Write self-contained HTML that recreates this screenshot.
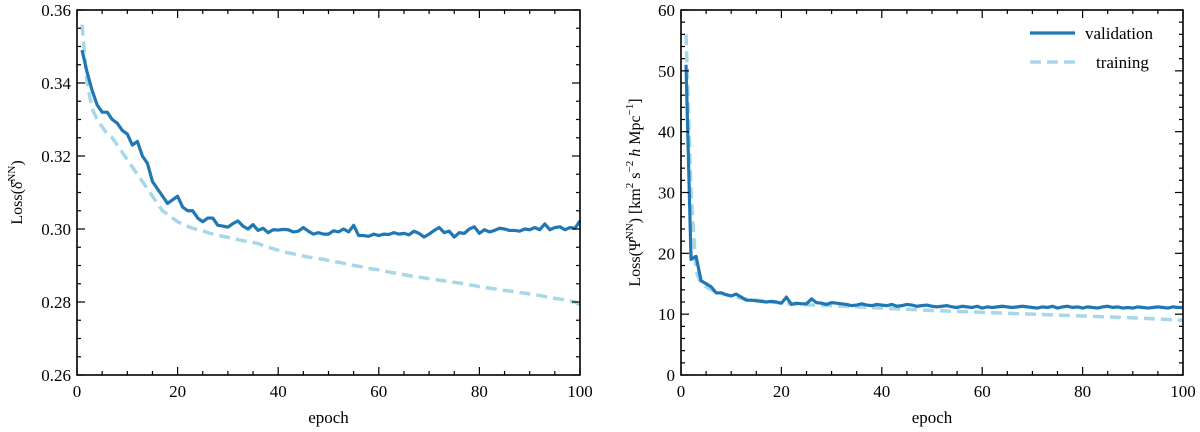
<!DOCTYPE html>
<html><head><meta charset="utf-8"><style>
html,body{margin:0;padding:0;background:#fff;}
svg{display:block;font-family:"Liberation Serif",serif;}
</style></head><body>
<svg id="c" width="1200" height="432" xmlns="http://www.w3.org/2000/svg"></svg>
<script>
const epochs = Array.from({length:100},(_,i)=>i+1);
const leftVal = [0.349,0.343,0.338,0.334,0.332,0.332,0.330,0.329,0.327,0.326,0.323,0.324,0.320,0.318,0.313,0.311,0.309,0.307,0.308,0.309,0.306,0.305,0.305,0.303,0.302,0.303,0.303,0.301,0.3008,0.3005,
0.3015,0.3022,0.3008,0.3000,0.3012,0.2996,0.3002,0.2990,0.2998,0.2997,0.2999,0.2998,0.2992,0.2994,0.3004,0.2994,0.2986,0.2990,0.2986,0.2986,0.2995,0.2992,0.3000,0.2992,0.3010,0.2982,0.2982,0.2980,0.2986,0.2982,0.2986,0.2985,0.2990,0.2986,0.2988,0.2984,0.2994,0.2988,0.2978,0.2986,0.2996,0.3004,0.2990,0.2994,0.2978,0.2990,0.2988,0.3000,0.3006,0.2988,0.2998,0.2992,0.2996,0.3002,0.3000,0.2996,0.2996,0.2994,0.3000,0.2998,0.3004,0.2998,0.3014,0.2998,0.3004,0.3006,0.2998,0.3004,0.3002,0.3022];
const leftTrain = [0.356,0.340,0.333,0.330,0.328,0.326,0.325,0.323,0.321,0.319,0.317,0.315,0.313,0.311,0.309,0.307,0.305,0.304,0.303,0.302,0.3013,0.3007,0.3002,0.2998,0.2995,0.2990,0.2986,0.2983,0.2980,0.2977,
0.2974,0.2971,0.2968,0.2966,0.2963,0.2960,0.2955,0.2950,0.2946,0.2942,0.2938,0.2935,0.2932,0.2929,0.2926,0.2923,0.2921,0.2919,0.2917,0.2914,0.2911,0.2909,0.2906,0.2903,0.2900,0.2898,0.2895,0.2892,0.2890,0.2888,0.2885,0.2882,0.2880,0.2877,0.2875,0.2872,0.2870,0.2868,0.2866,0.2864,0.2862,0.2860,0.2858,0.2856,0.2854,0.2852,0.2850,0.2847,0.2845,0.2842,0.2840,0.2838,0.2836,0.2834,0.2832,0.2830,0.2828,0.2826,0.2824,0.2822,0.2820,0.2818,0.2815,0.2812,0.2810,0.2808,0.2806,0.2803,0.2800,0.2792];
const rightVal = [51,19,19.5,15.5,15,14.5,13.5,13.5,13.2,13,13.3,12.8,12.3,12.3,12.2,12.1,12.0,12.1,12.0,11.8,12.8,11.6,11.8,11.7,11.7,12.5,11.9,11.8,11.6,11.9,
11.8,11.7,11.6,11.4,11.5,11.7,11.5,11.4,11.6,11.5,11.4,11.6,11.3,11.4,11.6,11.5,11.3,11.4,11.5,11.3,11.2,11.3,11.4,11.2,11.1,11.3,11.2,11.1,11.3,11.0,11.2,11.1,11.2,11.3,11.2,11.1,11.2,11.3,11.2,11.1,11.0,11.2,11.1,11.3,11.0,11.2,11.3,11.1,11.2,11.0,11.2,11.1,11.0,11.2,11.3,11.1,11.2,11.0,11.1,11.0,11.2,11.1,11.0,11.1,11.2,11.1,11.0,11.2,11.1,11.1];
const rightTrain = [56,30,17,15,14.5,14,13.7,13.5,13.2,13,12.8,12.6,12.5,12.4,12.3,12.2,12.1,12.0,11.9,11.8,11.75,11.7,11.65,11.6,11.55,11.5,11.48,11.45,11.42,11.4,
11.36,11.32,11.28,11.24,11.2,11.16,11.12,11.08,11.04,11.0,10.96,10.92,10.88,10.84,10.8,10.76,10.72,10.68,10.64,10.6,10.57,10.54,10.51,10.48,10.45,10.42,10.39,10.36,10.33,10.3,10.27,10.24,10.21,10.18,10.15,10.12,10.09,10.06,10.03,10.0,9.97,9.94,9.91,9.88,9.85,9.82,9.79,9.76,9.73,9.7,9.67,9.64,9.61,9.58,9.55,9.52,9.49,9.46,9.43,9.4,9.36,9.32,9.28,9.24,9.2,9.16,9.12,9.08,9.04,9.0];
const xTicks = [0,20,40,60,80,100];
const leftYTicks = [0.26,0.28,0.30,0.32,0.34,0.36];
const leftYLabels = ["0.26","0.28","0.30","0.32","0.34","0.36"];
const rightYTicks = [0,10,20,30,40,50,60];

const NS="http://www.w3.org/2000/svg";
const svg=document.getElementById('c');
function el(tag,attrs,parent){const e=document.createElementNS(NS,tag);for(const k in attrs)e.setAttribute(k,attrs[k]);(parent||svg).appendChild(e);return e;}

function panel(p){
  const g=el('g',{});
  
  
  const X=v=>p.x0+(v-0)/(100)*(p.x1-p.x0);
  const Y=v=>p.y1-(v-p.ymin)/(p.ymax-p.ymin)*(p.y1-p.y0);
  // series
  const mk=(arr)=>arr.map((v,i)=>(i?'L':'M')+X(epochs[i]).toFixed(2)+','+Y(v).toFixed(2)).join('');
  const tr=el('path',{d:mk(p.train),fill:'none',stroke:'#a6d8e7','stroke-width':3.5,'stroke-dasharray':'11,6'},g);
  
  
  const va=el('path',{d:mk(p.val),fill:'none',stroke:'#1f77b4','stroke-width':3.2,'stroke-linejoin':'round'},g);
  
  
  // frame
  const fr=el('rect',{x:p.x0,y:p.y0,width:p.x1-p.x0,height:p.y1-p.y0,fill:'none',stroke:'#000','stroke-width':1.6},g);
  
  
  // x ticks
  for(let v=0;v<=100;v+=5){const x=X(v),L=(v%20===0)?8:4;
    el('line',{x1:x,x2:x,y1:p.y1,y2:p.y1-L,stroke:'#000','stroke-width':1.2},g);
    el('line',{x1:x,x2:x,y1:p.y0,y2:p.y0+L,stroke:'#000','stroke-width':1.2},g);}
  xTicks.forEach(v=>{const t=el('text',{x:X(v),y:p.y1+22,'text-anchor':'middle','font-size':17},g);t.textContent=v;
    
    });
  // y ticks
  const step=(p.ymax-p.ymin)/p.minorN;
  for(let i=0;i<=p.minorN;i++){const v=p.ymin+i*step,y=Y(v),L=(i%p.majorEvery===0)?8:4;
    el('line',{x1:p.x0,x2:p.x0+L,y1:y,y2:y,stroke:'#000','stroke-width':1.2},g);
    el('line',{x1:p.x1,x2:p.x1-L,y1:y,y2:y,stroke:'#000','stroke-width':1.2},g);}
  p.yt.forEach((v,i)=>{const t=el('text',{x:p.x0-6,y:Y(v)+6,'text-anchor':'end','font-size':17},g);t.textContent=p.yl[i];
    
    });
  const xl=el('text',{x:(p.x0+p.x1)/2,y:p.y1+48,'text-anchor':'middle','font-size':17},g);xl.textContent='epoch';
  
  
  const yl=el('text',{x:0,y:0,'text-anchor':'middle','font-size':16,transform:`translate(${p.ylx},${(p.y0+p.y1)/2}) rotate(-90)`},g);
  yl.innerHTML=p.ytitle;
  
  
  return {X,Y,g};
}
panel({name:'density-loss-panel',x0:77,x1:580,y0:10,y1:375,ymin:0.26,ymax:0.36,minorN:20,majorEvery:4,val:leftVal,train:leftTrain,yt:leftYTicks,yl:leftYLabels,ylx:22,
  ytitle:'Loss(δ̂<tspan font-size="11" dy="-7">NN</tspan><tspan dy="7">)</tspan>'});
const r=panel({name:'velocity-loss-panel',x0:681,x1:1183,y0:10,y1:375,ymin:0,ymax:60,minorN:30,majorEvery:5,val:rightVal,train:rightTrain,yt:rightYTicks,yl:rightYTicks.map(String),ylx:640,
  ytitle:'Loss(Ψ̂<tspan font-size="11" dy="-7">NN</tspan><tspan dy="7">) [km</tspan><tspan font-size="11" dy="-7">2</tspan><tspan dy="7"> s</tspan><tspan font-size="11" dy="-7">−2</tspan><tspan dy="7"> </tspan><tspan font-style="italic">h</tspan><tspan> Mpc</tspan><tspan font-size="11" dy="-7">−1</tspan><tspan dy="7">]</tspan>'});
const lg=el('g',{});


el('line',{x1:1030,x2:1075,y1:33,y2:33,stroke:'#1f77b4','stroke-width':3.2},lg);
el('line',{x1:1030,x2:1075,y1:62,y2:62,stroke:'#a6d8e7','stroke-width':3.5,'stroke-dasharray':'11,6'},lg);
const t1=el('text',{x:1085,y:39,'font-size':17},lg);t1.textContent='validation';


const t2=el('text',{x:1096,y:68,'font-size':17},lg);t2.textContent='training';


</script>
</body></html>
